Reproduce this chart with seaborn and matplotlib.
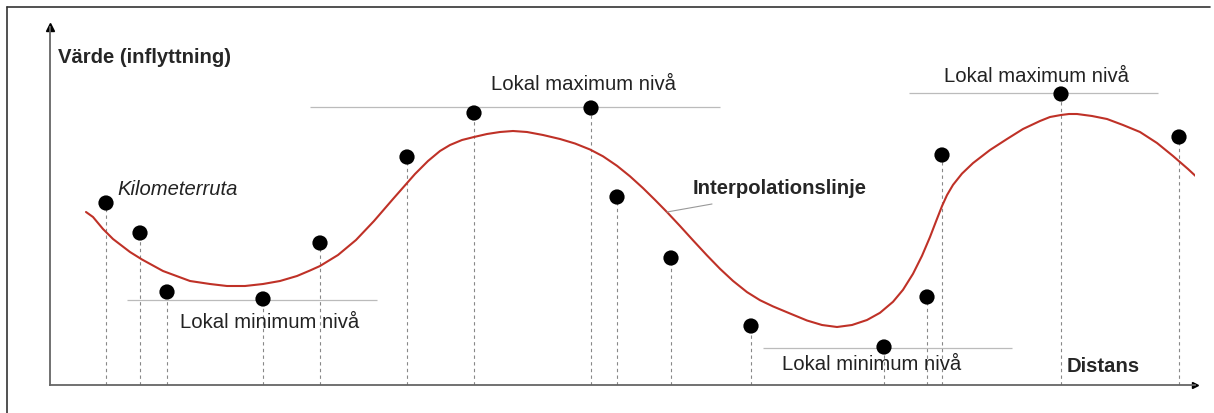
import matplotlib
matplotlib.use("Agg")
import matplotlib.pyplot as plt
from matplotlib.lines import Line2D
import seaborn as sns
import pandas as pd

sns.set_style("white")
plt.rcParams['font.family'] = ['Liberation Sans', 'DejaVu Sans']

# mätpunkter (kilometerrutor): distans och värde
distans = [56, 90, 117, 213, 270, 357, 424, 541, 567, 621, 701, 834, 877, 892, 1011, 1129]
varde = [182, 152, 93, 86, 142, 228, 272, 277, 188, 127, 59, 38, 88, 230, 291, 248]

# interpolationslinjen, avläst punkt för punkt
linje_x = [36, 43, 53, 63, 80, 92, 113, 140, 160, 177, 195, 213, 230, 247, 260, 270,
           288, 306, 324, 343, 365, 378, 390, 400, 412, 424, 437, 450, 463, 477, 493,
           510, 525, 540, 553, 567, 580, 593, 605, 617, 630, 643, 657, 670, 683, 697,
           710, 723, 740, 757, 772, 787, 802, 817, 830, 843, 853, 863, 872, 880, 886,
           892, 897, 903, 912, 923, 940, 957, 973, 990, 1000, 1011, 1019, 1027, 1042,
           1057, 1073, 1090, 1107, 1123, 1138, 1152]
linje_y = [173, 168, 156, 146, 133, 125.5, 114, 104, 101, 99, 99, 101, 104, 109, 114.5, 119,
           130, 145, 164, 186, 211, 224, 234, 240, 245, 248, 251, 253, 254, 253, 250,
           246, 241.5, 235.5, 228.7, 219.2, 208.7, 196.9, 185.1, 172.9, 159, 144.7, 129.6,
           116.2, 104.1, 92.9, 84.8, 78.6, 71.5, 64.5, 60, 58, 60, 65, 72.2, 83.2, 95.2,
           111.2, 129.2, 148, 163.6, 178.9, 189.9, 200.1, 211.4, 221.9, 235, 246, 256,
           264, 268, 270, 271, 271, 269, 266, 260, 253, 242, 229, 216, 203]

# nivålinjer: (från, till, nivå)
niva_min_1 = (77, 327, 85)
niva_max_1 = (260, 670, 278)
niva_min_2 = (713, 962, 37)
niva_max_2 = (859, 1108, 292)

punkter = pd.DataFrame({'distans': distans, 'varde': varde})
linje = pd.DataFrame({'x': linje_x, 'y': linje_y})

fig = plt.figure(figsize=(12.14, 4.14), dpi=100)
ax = fig.add_axes([50 / 1214, 28 / 414, 1145 / 1214, 358 / 414])
ax.set_xlim(0, 1145)
ax.set_ylim(0, 358)

# streckade linjer ner till x-axeln
ax.vlines(distans, 0, varde, colors='#888888', linestyles=(0, (3, 3)), lw=0.8, zorder=1)

# nivålinjer
for x0, x1, y in [niva_min_1, niva_max_1, niva_min_2, niva_max_2]:
    ax.hlines(y, x0, x1, colors='#bbbbbb', lw=0.9, zorder=1)

sns.lineplot(data=linje, x='x', y='y', color='#bf3127', lw=1.5, sort=False,
             estimator=None, ax=ax, zorder=2)
ax.lines[-1].set_solid_joinstyle('round')
sns.scatterplot(data=punkter, x='distans', y='varde', color='black', s=120,
                edgecolor='none', ax=ax, zorder=3)

# axlar med pilar
for side in ['top', 'right']:
    ax.spines[side].set_visible(False)
for side in ['left', 'bottom']:
    ax.spines[side].set_color('#666666')
    ax.spines[side].set_linewidth(1.3)
ax.plot([0], [358], marker='^', color='black', ms=6, clip_on=False)
ax.plot([1145], [0], marker='>', color='black', ms=5, clip_on=False)
ax.set_xticks([])
ax.set_yticks([])
ax.set_xlabel('')
ax.set_ylabel('')

fs = 14.6
ax.text(8, 323, 'Värde (inflyttning)', fontsize=fs, fontweight='bold', va='baseline')
ax.text(67, 191, 'Kilometerruta', fontsize=fs, style='italic', color='#222222', va='baseline')
ax.text(130, 58, 'Lokal minimum nivå', fontsize=fs, color='#222222', va='baseline')
ax.text(441, 296, 'Lokal maximum nivå', fontsize=fs, color='#222222', va='baseline')
ax.text(643, 192, 'Interpolationslinje', fontsize=fs, fontweight='bold', va='baseline')
ax.text(732, 16, 'Lokal minimum nivå', fontsize=fs, color='#222222', va='baseline')
ax.text(894, 304, 'Lokal maximum nivå', fontsize=fs, color='#222222', va='baseline')
ax.text(1017, 14, 'Distans', fontsize=fs, fontweight='bold', va='baseline')
ax.plot([617, 662], [173, 181], color='#999999', lw=0.8)

# ram runt bilden
fig.add_artist(Line2D([7 / 1214, 1210 / 1214], [1 - 8 / 414, 1 - 8 / 414],
                      color='#333333', lw=1.2))
fig.add_artist(Line2D([7 / 1214, 7 / 1214], [0, 1 - 8 / 414], color='#333333', lw=1.2))

fig.savefig('out.png', dpi=100)
